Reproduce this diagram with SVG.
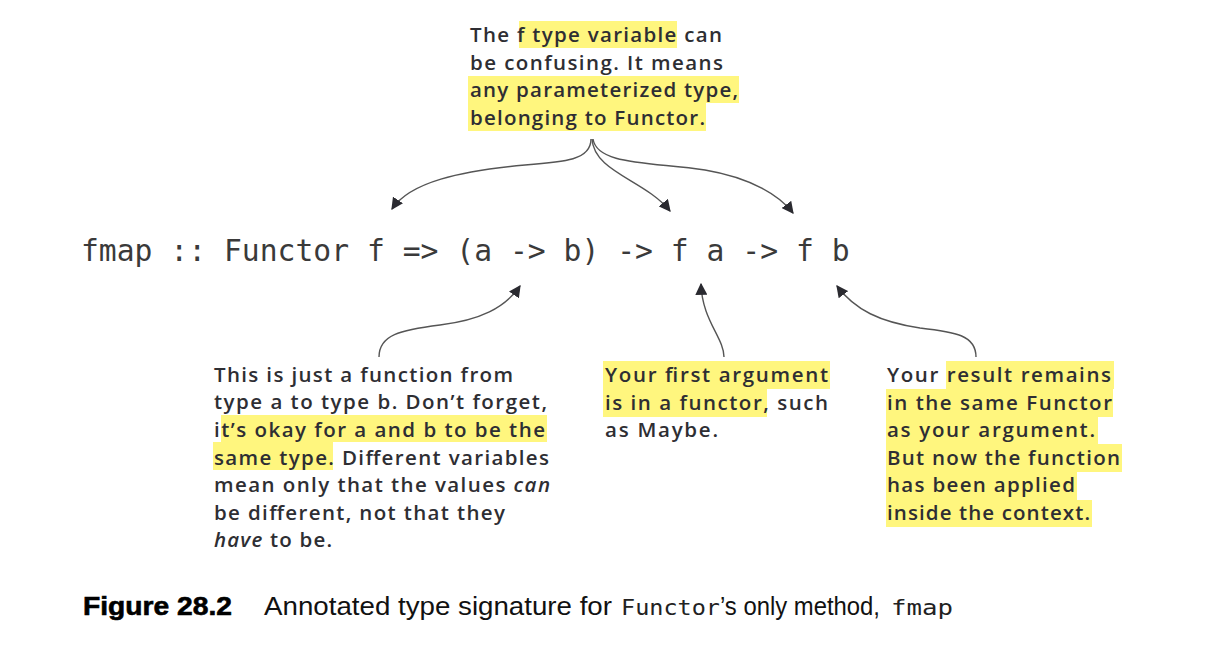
<svg xmlns="http://www.w3.org/2000/svg" width="1206" height="664" viewBox="0 0 1206 664">
<defs>
<style>
.note{font-family:"Open Sans","Liberation Sans",Arial,sans-serif;font-weight:600;font-size:20.5px;fill:#2e2e33}
.code{font-family:"DejaVu Sans Mono","Liberation Mono",monospace;font-size:29.7px;fill:#3a3a3a}
.hl{fill:#fff67e}
.conn{fill:none;stroke:#555;stroke-width:1.4}
.cap{font-family:"Liberation Sans",Arial,sans-serif;font-size:25px;fill:#111}
.capb{font-family:"Liberation Sans",Arial,sans-serif;font-size:26px;font-weight:900;fill:#000;stroke:#000;stroke-width:0.6}
.capm{font-family:"DejaVu Sans Mono","Liberation Mono",monospace;font-size:22px;fill:#222}
</style>
<marker id="ah" viewBox="0 0 10 10" refX="9" refY="5" markerWidth="12" markerHeight="12" markerUnits="userSpaceOnUse" orient="auto">
<path d="M0,0 L10,5 L0,10 z" fill="#2a2a30"/>
</marker>
</defs>
<rect width="1206" height="664" fill="#fff"/>

<g id="note-top">
<rect class="hl" x="519" y="21" width="158" height="27"/>
<rect class="hl" x="468" y="76" width="271" height="27"/>
<rect class="hl" x="468" y="103" width="238" height="28"/>
<text class="note" x="470" y="42" textLength="252">The f type variable can</text>
<text class="note" x="470" y="70" textLength="253">be confusing. It means</text>
<text class="note" x="470" y="97" textLength="268">any parameterized type,</text>
<text class="note" x="470" y="125" textLength="235">belonging to Functor.</text>
</g>

<g id="signature">
<text class="code" x="81" y="261">fmap :: Functor f =&gt; (a -&gt; b) -&gt; f a -&gt; f b</text>
</g>

<g id="note-function">
<rect class="hl" x="221" y="415" width="326" height="27"/>
<rect class="hl" x="213" y="442" width="120" height="28"/>
<text class="note" x="214" y="382" textLength="299">This is just a function from</text>
<text class="note" x="214" y="409" textLength="333">type a to type b. Don’t forget,</text>
<text class="note" x="214" y="437" textLength="331">it’s okay for a and b to be the</text>
<text class="note" x="214" y="465" textLength="335">same type. Different variables</text>
<text class="note" x="214" y="492" textLength="336">mean only that the values <tspan font-style="italic">can</tspan></text>
<text class="note" x="214" y="520" textLength="291">be different, not that they</text>
<text class="note" x="214" y="547" textLength="118"><tspan font-style="italic">have</tspan> to be.</text>
</g>

<g id="note-argument">
<rect class="hl" x="603" y="361" width="227" height="28"/>
<rect class="hl" x="603" y="389" width="164" height="28"/>
<text class="note" x="605" y="382" textLength="223">Your first argument</text>
<text class="note" x="605" y="410" textLength="223">is in a functor, such</text>
<text class="note" x="605" y="437" textLength="113">as Maybe.</text>
</g>

<g id="note-result">
<rect class="hl" x="946" y="361" width="168" height="28"/>
<rect class="hl" x="886" y="389" width="227" height="28"/>
<rect class="hl" x="886" y="417" width="212" height="27"/>
<rect class="hl" x="886" y="444" width="236" height="28"/>
<rect class="hl" x="886" y="472" width="191" height="28"/>
<rect class="hl" x="886" y="500" width="206" height="27"/>
<text class="note" x="887" y="382" textLength="224">Your result remains</text>
<text class="note" x="887" y="410" textLength="225">in the same Functor</text>
<text class="note" x="887" y="437" textLength="208">as your argument.</text>
<text class="note" x="887" y="465" textLength="233">But now the function</text>
<text class="note" x="887" y="492" textLength="188">has been applied</text>
<text class="note" x="887" y="520" textLength="203">inside the context.</text>
</g>

<g id="connectors">
<path class="conn" marker-end="url(#ah)" d="M591,139 C591,160 565,162 525,165 C460,171 410,182 392,209"/>
<path class="conn" marker-end="url(#ah)" d="M592,139 C594,172 645,180 670,211"/>
<path class="conn" marker-end="url(#ah)" d="M593,139 C597,165 650,162 705,170 C752,178 780,196 793,213"/>
<path class="conn" marker-end="url(#ah)" d="M379,357 C379,335 400,330 440,325 C480,320 505,308 520,286"/>
<path class="conn" marker-end="url(#ah)" d="M724,357 C724,338 702,320 701,284"/>
<path class="conn" marker-end="url(#ah)" d="M976,357 C976,335 955,332 920,328 C880,322 855,310 837,286"/>
</g>

<g id="caption">
<text class="capb" x="83" y="615" textLength="149" lengthAdjust="spacingAndGlyphs">Figure 28.2</text>
<text class="cap" x="264" y="615" textLength="348" lengthAdjust="spacingAndGlyphs">Annotated type signature for</text>
<text class="capm" x="621" y="615" textLength="99" lengthAdjust="spacingAndGlyphs">Functor</text>
<text class="cap" x="720" y="615" textLength="160" lengthAdjust="spacingAndGlyphs">’s only method,</text>
<text class="capm" x="891" y="615" textLength="62" lengthAdjust="spacingAndGlyphs">fmap</text>
</g>
</svg>
